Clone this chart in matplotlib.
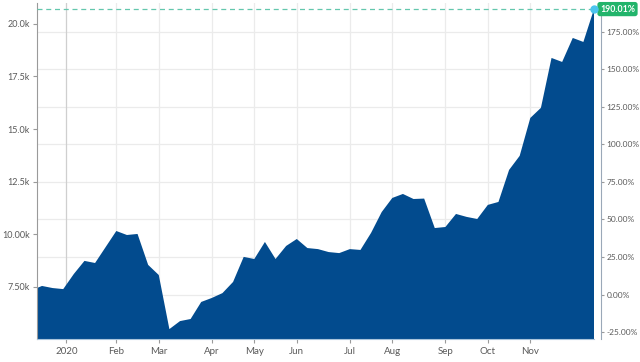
import datetime as dt

import numpy as np
import matplotlib
matplotlib.use("Agg")
import matplotlib.pyplot as plt
import matplotlib.dates as mdates
import matplotlib.transforms as mtransforms

plt.rcParams['font.family'] = ['Lato', 'DejaVu Sans']

# Weekly closes (Mondays), first point is clipped by the left edge
start = dt.date(2019, 12, 9)
values = [7340, 7550, 7450, 7400, 8120, 8740, 8640, 9400, 10160, 9970,
          10020, 8550, 8070, 5500, 5880, 5980, 6790, 6980, 7210, 7740,
          8930, 8830, 9640, 8830, 9450, 9780, 9350, 9300, 9160, 9110,
          9300, 9260, 10070, 11060, 11730, 11920, 11680, 11700, 10300, 10350,
          10970, 10830, 10730, 11400, 11540, 13060, 13730, 15530, 16010, 18380,
          18190, 19330, 19140, 20701]
dates = [start + dt.timedelta(weeks=i) for i in range(len(values))]
base_value = 7138  # value at 0.00%

left_ticks = [7500, 10000, 12500, 15000, 17500, 20000]
left_labels = ["7.50k", "10.00k", "12.5k", "15.0k", "17.5k", "20.0k"]
pct_ticks = [-25, 0, 25, 50, 75, 100, 125, 150, 175]
month_names = ["Feb", "Mar", "Apr", "May", "Jun", "Jul", "Aug", "Sep", "Oct", "Nov"]

fill_color = "#024b8e"
grid_color = "#ebebeb"
text_color = "#5a5a5a"

fig = plt.figure(figsize=(6.4, 3.62), dpi=100)
ax = fig.add_axes([37 / 640, 1 - 339 / 362, 557 / 640, 336 / 362])

x = mdates.date2num(dates)
ax.fill_between(x, values, 0, color=fill_color, lw=0, zorder=2)

ylo, yhi = 5030, 20990
ax.set_ylim(ylo, yhi)
ax.set_xlim(x[1] - 3.3, x[-1])

# x ticks: year start, then first weekly point of each month
tick_pos = [mdates.date2num(dt.date(2020, 1, 1))]
tick_lab = ["2020"]
for m, name in zip(range(2, 12), month_names):
    first = [d for d in dates if d.year == 2020 and d.month == m][0]
    tick_pos.append(mdates.date2num(first))
    tick_lab.append(name)
ax.set_xticks(tick_pos)
ax.set_xticklabels(tick_lab)
for i, p in enumerate(tick_pos):
    ax.axvline(p, color="#cfcfcf" if i == 0 else grid_color, lw=0.9, zorder=1)

ax.set_yticks(left_ticks)
ax.set_yticklabels(left_labels)

# right axis in percent of base value
ax2 = ax.twinx()
ax2.set_ylim((ylo / base_value - 1) * 100, (yhi / base_value - 1) * 100)
ax2.set_yticks(pct_ticks)
ax2.set_yticklabels(["%.2f%%" % t for t in pct_ticks])
for t in pct_ticks:
    ax2.axhline(t, color=grid_color, lw=0.9, zorder=0)
ax.set_zorder(ax2.get_zorder() + 1)
ax.patch.set_visible(False)

for a in (ax, ax2):
    for s in a.spines.values():
        s.set_visible(False)
    a.tick_params(colors="#9a9a9a", labelcolor=text_color, labelsize=6.5,
                  length=3, width=0.8)
ax.tick_params(axis='x', labelsize=7, pad=3)
ax2.tick_params(axis='y', labelsize=6, length=2.5, pad=1.5)
ax.tick_params(axis='y', pad=2)
ax.spines['left'].set_visible(True)
ax.spines['left'].set_color("#9a9a9a")
ax.spines['bottom'].set_visible(True)
ax.spines['bottom'].set_color("#a9c4dc")
ax2.spines['right'].set_visible(True)
ax2.spines['right'].set_color("#9aa8b8")
ax2.spines['right'].set_position(('outward', 5))

# last value marker
last = values[-1]
last_pct = (last / base_value - 1) * 100
ax.axhline(last, color="#63c7ad", lw=0.9, ls=(0, (4, 3)), zorder=3)
ax.plot([x[-1]], [last], marker="o", ms=5, color="#4cc4ee", clip_on=False, zorder=5)
trans = mtransforms.blended_transform_factory(ax2.transAxes, ax2.transData)
ax2.text(1.0 + 6 / 557, last_pct, "%.2f%%" % last_pct, transform=trans,
         ha="left", va="center", fontsize=6.3, color="white", fontweight="bold",
         bbox=dict(boxstyle="round,pad=0.3,rounding_size=0.3",
                   fc="#22b46b", ec="none"),
         zorder=6, clip_on=False)

fig.savefig("out.png", dpi=100)
